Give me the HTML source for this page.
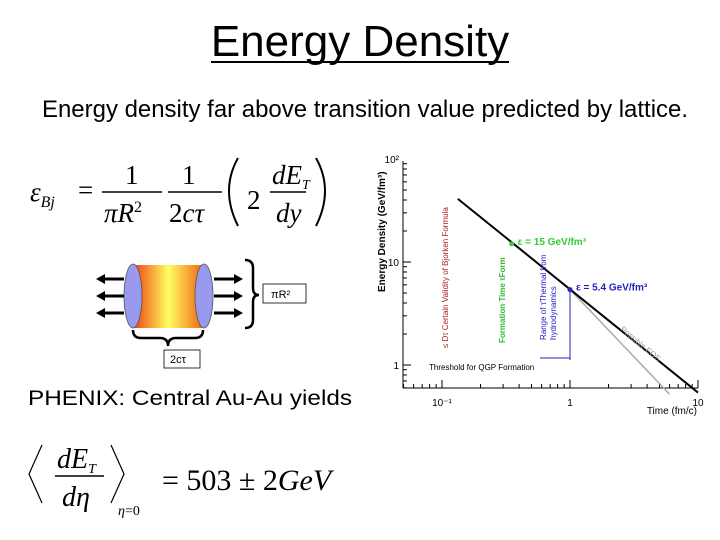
<!DOCTYPE html>
<html><head><meta charset="utf-8"><style>
body{margin:0;background:#fff;}
svg{display:block;font-family:"Liberation Sans",sans-serif;}
.serif{font-family:"Liberation Serif",serif;}
</style></head><body>
<svg width="720" height="540" viewBox="0 0 720 540">
<defs>
<linearGradient id="cyl" x1="0" x2="1" y1="0" y2="0">
<stop offset="0" stop-color="#f04010"/><stop offset="0.5" stop-color="#ffff60"/><stop offset="1" stop-color="#f06010"/>
</linearGradient>
</defs>
<text x="360" y="56" text-anchor="middle" font-size="44">Energy Density</text>
<line x1="211" y1="62" x2="509" y2="62" stroke="#000" stroke-width="2"/>
<text x="42" y="117" font-size="23.8" textLength="646" lengthAdjust="spacingAndGlyphs">Energy density far above transition value predicted by lattice.</text>

<g class="serif" font-style="italic" font-size="27">
<text x="30" y="201">ε<tspan font-size="16" dy="6">Bj</tspan></text>
<text x="78" y="199" font-style="normal">=</text>
<text x="125" y="184" font-style="normal">1</text>
<line x1="102" y1="192" x2="162" y2="192" stroke="#000" stroke-width="1.5"/>
<text x="104" y="222">πR<tspan font-size="16" dy="-10" font-style="normal">2</tspan></text>
<text x="182" y="184" font-style="normal">1</text>
<line x1="168" y1="192" x2="222" y2="192" stroke="#000" stroke-width="1.5"/>
<text x="169" y="222"><tspan font-style="normal">2</tspan>cτ</text>
<path d="M238 158 Q220 190 238 226" fill="none" stroke="#000" stroke-width="2"/>
<text x="247" y="209" font-style="normal">2</text>
<text x="272" y="184">dE<tspan font-size="14" dy="5">T</tspan></text>
<line x1="270" y1="192" x2="306" y2="192" stroke="#000" stroke-width="1.5"/>
<text x="276" y="222">dy</text>
<path d="M316 158 Q334 190 316 226" fill="none" stroke="#000" stroke-width="2"/>
</g>

<g>
<rect x="133" y="265" width="71" height="63" fill="url(#cyl)"/>
<ellipse cx="133" cy="296" rx="9" ry="32" fill="#9999ee" stroke="#555" stroke-width="0.8"/>
<ellipse cx="204" cy="296" rx="9" ry="32" fill="#9999ee" stroke="#555" stroke-width="0.8"/>
<g stroke="#000" stroke-width="3" fill="#000">
<line x1="104" y1="279" x2="124" y2="279"/><line x1="104" y1="296" x2="124" y2="296"/><line x1="104" y1="313" x2="124" y2="313"/>
<line x1="214" y1="279" x2="234" y2="279"/><line x1="214" y1="296" x2="234" y2="296"/><line x1="214" y1="313" x2="234" y2="313"/>
</g>
<g fill="#000">
<polygon points="96,279 105,274 105,284"/><polygon points="96,296 105,291 105,301"/><polygon points="96,313 105,308 105,318"/>
<polygon points="243,279 234,274 234,284"/><polygon points="243,296 234,291 234,301"/><polygon points="243,313 234,308 234,318"/>
</g>
<path d="M245 260 Q253 260 253 268 L253 288 Q253 295 259 295 Q253 295 253 302 L253 320 Q253 328 245 328" fill="none" stroke="#000" stroke-width="2.5"/>
<rect x="263" y="284" width="43" height="19" fill="#fff" stroke="#000" stroke-width="0.8"/>
<text x="271" y="298" font-size="11">πR²</text>
<path d="M133 330 Q133 338 141 338 L160 338 Q168 338 168 346 Q168 338 176 338 L195 338 Q203 338 203 330" fill="none" stroke="#000" stroke-width="2.5"/>
<rect x="164" y="350" width="36" height="18" fill="#fff" stroke="#000" stroke-width="0.8"/>
<text x="170" y="363" font-size="11">2cτ</text>
</g>

<text x="28" y="405" font-size="21" textLength="324" lengthAdjust="spacingAndGlyphs">PHENIX:  Central Au-Au yields</text>

<g class="serif" font-size="28">
<path d="M42 445 L29 474 L42 503" fill="none" stroke="#000" stroke-width="1.2"/>
<text x="57" y="468" font-style="italic">dE<tspan font-size="14" dy="5">T</tspan></text>
<line x1="55" y1="476" x2="104" y2="476" stroke="#000" stroke-width="1.5"/>
<text x="62" y="506" font-style="italic">dη</text>
<path d="M111 445 L124 474 L111 503" fill="none" stroke="#000" stroke-width="1.2"/>
<text x="118" y="515" font-size="14" font-style="italic">η<tspan font-style="normal">=0</tspan></text>
<text x="162" y="490" font-size="30">= 503 ± 2<tspan font-style="italic">GeV</tspan></text>
</g>

<g id="chart"></g>
</svg>
<script>
const lineT=[0.133,10];
const lineE=[41,0.54];
const eosT=[1,6];
const eosE=[5.4,0.52];
const pointT=[0.35,1];
const pointE=[15,5.4];
const pointLabels=["ε = 15 GeV/fm³","ε = 5.4 GeV/fm³"];
const xTickVals=[0.1,1,10];
const xTickLabels=["10⁻¹","1","10"];
const yTickVals=[1,10,100];
const yTickLabels=["1","10","10²"];
const NS="http://www.w3.org/2000/svg";
const g=document.getElementById('chart');
const L=403,R=698,T=161,B=388;
function X(t){return 570+Math.log10(t)*128;}
function Y(e){return 365-Math.log10(e)*103;}
function el(n,a,p){const e=document.createElementNS(NS,n);for(const k in a)e.setAttribute(k,a[k]);(p||g).appendChild(e);return e;}
let a=el('line',{x1:L,y1:T,x2:L,y2:B,stroke:'#000','stroke-width':1});


a=el('line',{x1:L,y1:B,x2:R,y2:B,stroke:'#000','stroke-width':1});


for(let d=-2;d<=1;d++)for(let m=1;m<10;m++){const t=m*Math.pow(10,d);const x=X(t);if(x<L||x>R)continue;el('line',{x1:x,y1:B,x2:x,y2:B-(m==1?8:4),stroke:'#000'});}
for(let d=-1;d<=1;d++)for(let m=1;m<10;m++){const e=m*Math.pow(10,d);const y=Y(e);if(y<T-1||y>B)continue;el('line',{x1:L,y1:y,x2:L+(m==1?8:4),y2:y,stroke:'#000'});}
xTickVals.forEach((v,i)=>{const t=el('text',{x:X(v),y:406,'font-size':10,'text-anchor':'middle'});t.textContent=xTickLabels[i];

});
yTickVals.forEach((v,i)=>{const t=el('text',{x:L-4,y:Y(v)+4,'font-size':10,'text-anchor':'end'});t.textContent=yTickLabels[i];

});
let t=el('text',{x:385,y:292,'font-size':10,'font-weight':'bold',transform:'rotate(-90 385 292)'});t.textContent='Energy Density (GeV/fm³)';


t=el('text',{x:697,y:414,'font-size':10,'text-anchor':'end'});t.textContent='Time (fm/c)';


let p=el('polyline',{points:eosT.map((v,i)=>X(v)+','+Y(eosE[i])).join(' '),fill:'none',stroke:'#aaa','stroke-width':1.5});


p=el('polyline',{points:lineT.map((v,i)=>X(v)+','+Y(lineE[i])).join(' '),fill:'none',stroke:'#000','stroke-width':2});


const cols=['#33cc33','#2222bb'];
pointT.forEach((v,i)=>{const c=el('circle',{cx:X(v),cy:Y(pointE[i]),r:2.5,fill:cols[i]});


const l=el('text',{x:X(v)+6,y:Y(pointE[i])+1,'font-size':10,'font-weight':'bold',fill:cols[i]});l.textContent=pointLabels[i];

});
el('line',{x1:X(1),y1:Y(5.4),x2:X(1),y2:360,stroke:'#2222bb'});
el('line',{x1:540,y1:358,x2:X(1),y2:358,stroke:'#2222bb'});
t=el('text',{x:546,y:340,'font-size':8,fill:'#2222bb',transform:'rotate(-90 546 340)'});t.textContent='Range of τThermal from';
t=el('text',{x:556,y:340,'font-size':8,fill:'#2222bb',transform:'rotate(-90 556 340)'});t.textContent='hydrodynamics';
t=el('text',{x:448,y:348,'font-size':8,fill:'#aa2222',transform:'rotate(-90 448 348)'});t.textContent='≤ Dτ    Certain Validity of Bjorken Formula';
t=el('text',{x:505,y:343,'font-size':8,'font-weight':'bold',fill:'#33bb33',transform:'rotate(-90 505 343)'});t.textContent='Formation Time τForm';
t=el('text',{x:620,y:330,'font-size':8,fill:'#999',transform:'rotate(40 620 330)'});t.textContent='Possible EOS';
t=el('text',{x:429,y:370,'font-size':8});t.textContent='Threshold for QGP Formation';
</script>
</body></html>
